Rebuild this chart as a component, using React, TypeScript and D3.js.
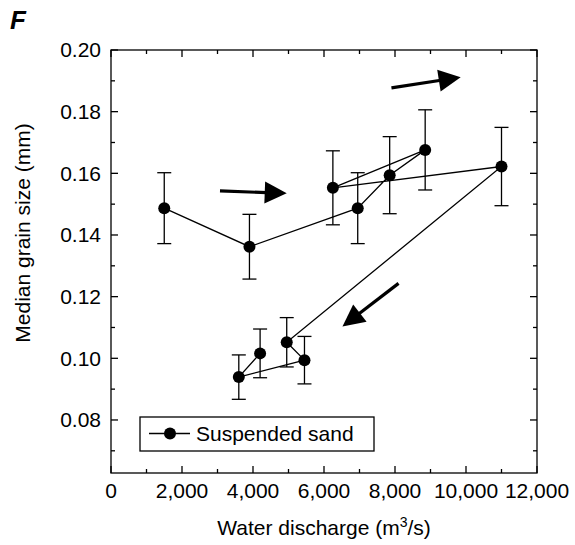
import React from "react";
import * as d3 from "d3";

const discharge = [1500, 3900, 6950, 7850, 8850, 6250, 11000, 4950, 5450, 3600, 4200];
const grainSize = [0.1487, 0.1362, 0.1487, 0.1594, 0.1676, 0.1553, 0.1622, 0.1052, 0.0994, 0.0939, 0.1016];
const errorSize = [0.0115, 0.0105, 0.0115, 0.0125, 0.013, 0.012, 0.0127, 0.008, 0.0077, 0.0072, 0.0079];

const xTicks = [0, 2000, 4000, 6000, 8000, 10000, 12000];
const xMinor = [1000, 3000, 5000, 7000, 9000, 11000];
const yTicks = [0.08, 0.1, 0.12, 0.14, 0.16, 0.18, 0.2];
const yMinor = [0.07, 0.09, 0.11, 0.13, 0.15, 0.17, 0.19];

// arrows in data coordinates: [x0, y0, x1(tip), y1(tip)]
const arrows = [
  [3070, 0.1543, 4950, 0.1535],
  [7900, 0.1877, 9850, 0.1912],
  [8100, 0.1243, 6520, 0.1103],
];

const seriesName = "Suspended sand";

const W = 575, H = 545;
const L = 111, R = 537, T = 50, B = 473;
const FONT = "'Liberation Sans', Arial, Helvetica, sans-serif";
const FS = 21;

export default function App() {
  const x = d3.scaleLinear().domain([0, 12000]).range([L, R]);
  const y = d3.scaleLinear().domain([0.0628, 0.2]).range([B, T]);
  const line = d3.line<number>().x((_, i) => x(discharge[i])).y((_, i) => y(grainSize[i]));
  const fmtX = d3.format(",");
  const fmtY = d3.format(".2f");
  const sw = 1.3;
  const major = 7, minor = 4;

  const arrowEls = arrows.map((a, i) => {
    const x0 = x(a[0]), y0 = y(a[1]), x1 = x(a[2]), y1 = y(a[3]);
    const dx = x1 - x0, dy = y1 - y0;
    const len = Math.hypot(dx, dy);
    const ux = dx / len, uy = dy / len;
    const hl = 22, hw = 11;
    const bx = x1 - ux * hl, by = y1 - uy * hl;
    const px = -uy, py = ux;
    const pts = [
      [x1, y1],
      [bx + px * hw, by + py * hw],
      [bx - px * hw, by - py * hw],
    ];
    return (
      <g key={i}>
        <line x1={x0} y1={y0} x2={bx + ux * 2} y2={by + uy * 2} stroke="#000" strokeWidth={3.2} />
        <polygon points={pts.map((p) => p.join(",")).join(" ")} fill="#000" />
      </g>
    );
  });

  return (
    <svg width={W} height={H} style={{ position: "absolute", left: 0, top: 0, background: "#fff" }} fontFamily={FONT}>
      <rect x={0} y={0} width={W} height={H} fill="#fff" />
      <text x={10} y={29} fontSize={26} fontWeight="bold" fontStyle="italic">F</text>

      {/* frame */}
      <rect x={L} y={T} width={R - L} height={B - T} fill="none" stroke="#000" strokeWidth={sw} />

      {/* x ticks */}
      {xTicks.map((v) => (
        <g key={"xt" + v}>
          <line x1={x(v)} x2={x(v)} y1={B} y2={B - major} stroke="#000" strokeWidth={sw} />
          <line x1={x(v)} x2={x(v)} y1={T} y2={T + major} stroke="#000" strokeWidth={sw} />
          <text x={x(v)} y={498} fontSize={FS} textAnchor="middle">{fmtX(v)}</text>
        </g>
      ))}
      {xMinor.map((v) => (
        <g key={"xm" + v}>
          <line x1={x(v)} x2={x(v)} y1={B} y2={B - minor} stroke="#000" strokeWidth={sw} />
          <line x1={x(v)} x2={x(v)} y1={T} y2={T + minor} stroke="#000" strokeWidth={sw} />
        </g>
      ))}

      {/* y ticks */}
      {yTicks.map((v) => (
        <g key={"yt" + v}>
          <line x1={L} x2={L + major} y1={y(v)} y2={y(v)} stroke="#000" strokeWidth={sw} />
          <line x1={R} x2={R - major} y1={y(v)} y2={y(v)} stroke="#000" strokeWidth={sw} />
          <text x={101} y={y(v)} dy="0.35em" fontSize={FS} textAnchor="end">{fmtY(v)}</text>
        </g>
      ))}
      {yMinor.map((v) => (
        <g key={"ym" + v}>
          <line x1={L} x2={L + minor} y1={y(v)} y2={y(v)} stroke="#000" strokeWidth={sw} />
          <line x1={R} x2={R - minor} y1={y(v)} y2={y(v)} stroke="#000" strokeWidth={sw} />
        </g>
      ))}

      {/* axis titles */}
      <text x={(L + R) / 2} y={535} fontSize={FS} textAnchor="middle">
        Water discharge (m<tspan dy={-8} fontSize={14}>3</tspan><tspan dy={8}>/s)</tspan>
      </text>
      <text transform={`translate(30,233) rotate(-90)`} fontSize={FS} textAnchor="middle">
        Median grain size (mm)
      </text>

      {/* error bars */}
      {discharge.map((d, i) => {
        const cx = x(d);
        const yt = y(grainSize[i] + errorSize[i]);
        const yb = y(grainSize[i] - errorSize[i]);
        return (
          <g key={"e" + i} stroke="#000" strokeWidth={sw}>
            <line x1={cx} x2={cx} y1={yt} y2={yb} />
            <line x1={cx - 7} x2={cx + 7} y1={yt} y2={yt} />
            <line x1={cx - 7} x2={cx + 7} y1={yb} y2={yb} />
          </g>
        );
      })}

      {/* connecting line */}
      <path d={line(grainSize) || ""} fill="none" stroke="#000" strokeWidth={sw} />

      {/* points */}
      {discharge.map((d, i) => (
        <circle key={"p" + i} cx={x(d)} cy={y(grainSize[i])} r={6} fill="#000" />
      ))}

      {arrowEls}

      {/* legend */}
      <rect x={140} y={417} width={234} height={34} fill="#fff" stroke="#000" strokeWidth={sw} />
      <line x1={149} x2={190} y1={433.5} y2={433.5} stroke="#000" strokeWidth={sw} />
      <circle cx={170} cy={433.5} r={6} fill="#000" />
      <text x={196} y={433.5} dy="0.35em" fontSize={FS}>{seriesName}</text>
    </svg>
  );
}
